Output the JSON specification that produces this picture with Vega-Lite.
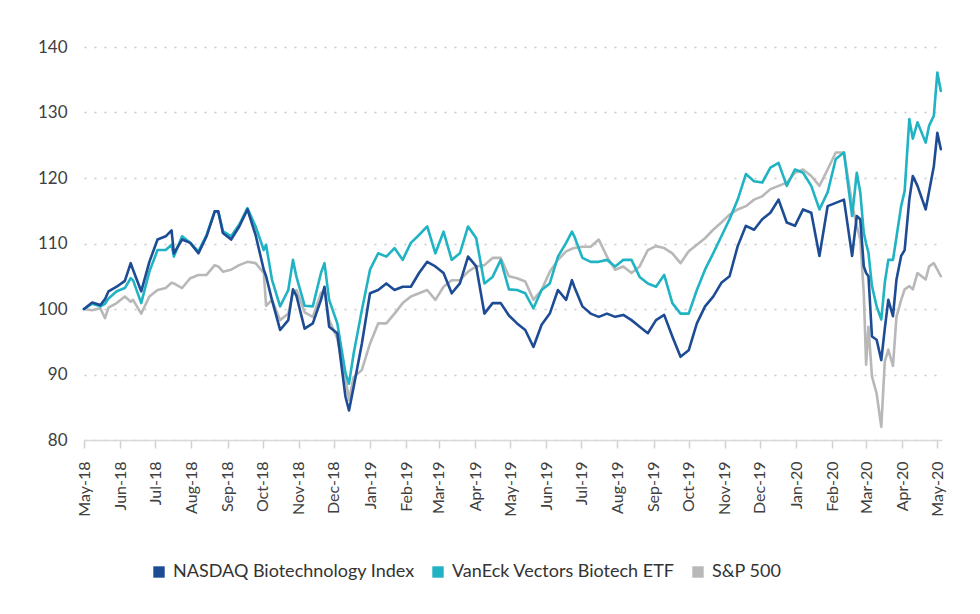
{
  "$schema": "https://vega.github.io/schema/vega-lite/v6.json",
  "width": 858,
  "height": 393,
  "autosize": {"type": "none"},
  "padding": {"left": 84, "top": 47, "right": 38, "bottom": 174},
  "background": "white",
  "config": {"view": {"stroke": null}, "font": "Lato"},
  "data": {"values": [
    {"date": "2018-05-01", "nbi": 100, "bbh": 100, "spx": 100},
    {"date": "2018-05-08", "nbi": 101.0, "bbh": 100.8, "spx": 99.8},
    {"date": "2018-05-15", "nbi": 100.6, "bbh": 100.4, "spx": 100.1},
    {"date": "2018-05-19", "nbi": 101.5, "bbh": 100.8, "spx": 98.6},
    {"date": "2018-05-22", "nbi": 102.7, "bbh": 101.6, "spx": 100.2},
    {"date": "2018-05-29", "nbi": 103.4, "bbh": 102.7, "spx": 100.9},
    {"date": "2018-06-05", "nbi": 104.3, "bbh": 103.2, "spx": 101.9},
    {"date": "2018-06-10", "nbi": 107.0, "bbh": 104.7, "spx": 101.1},
    {"date": "2018-06-12", "nbi": 106.0, "bbh": 104.4, "spx": 101.4},
    {"date": "2018-06-19", "nbi": 102.7, "bbh": 100.9, "spx": 99.3},
    {"date": "2018-06-26", "nbi": 107.2, "bbh": 105.7, "spx": 101.9},
    {"date": "2018-07-03", "nbi": 110.6, "bbh": 109.0, "spx": 102.9},
    {"date": "2018-07-10", "nbi": 111.1, "bbh": 109.0, "spx": 103.2},
    {"date": "2018-07-15", "nbi": 112.0, "bbh": 109.8, "spx": 104.0},
    {"date": "2018-07-17", "nbi": 108.5, "bbh": 108.0, "spx": 103.9},
    {"date": "2018-07-24", "nbi": 110.6, "bbh": 111.1, "spx": 103.2},
    {"date": "2018-07-31", "nbi": 110.1, "bbh": 110.1, "spx": 104.7},
    {"date": "2018-08-07", "nbi": 108.5, "bbh": 108.8, "spx": 105.2},
    {"date": "2018-08-14", "nbi": 111.1, "bbh": 111.3, "spx": 105.2},
    {"date": "2018-08-21", "nbi": 114.9, "bbh": 114.9, "spx": 106.7},
    {"date": "2018-08-24", "nbi": 114.9, "bbh": 114.9, "spx": 106.5},
    {"date": "2018-08-28", "nbi": 111.6, "bbh": 111.9, "spx": 105.7},
    {"date": "2018-09-04", "nbi": 110.6, "bbh": 111.1, "spx": 106.0},
    {"date": "2018-09-11", "nbi": 112.6, "bbh": 112.9, "spx": 106.7},
    {"date": "2018-09-18", "nbi": 115.2, "bbh": 115.4, "spx": 107.2},
    {"date": "2018-09-25", "nbi": 111.3, "bbh": 112.6, "spx": 107.0},
    {"date": "2018-10-02", "nbi": 106.0, "bbh": 109.0, "spx": 105.5},
    {"date": "2018-10-04", "nbi": 105.0, "bbh": 109.8, "spx": 100.5},
    {"date": "2018-10-09", "nbi": 101.4, "bbh": 104.5, "spx": 101.4},
    {"date": "2018-10-16", "nbi": 96.8, "bbh": 100.4, "spx": 98.3},
    {"date": "2018-10-23", "nbi": 98.3, "bbh": 102.9, "spx": 99.3},
    {"date": "2018-10-27", "nbi": 103.0, "bbh": 107.5, "spx": 102.5},
    {"date": "2018-10-30", "nbi": 102.0, "bbh": 104.9, "spx": 102.9},
    {"date": "2018-11-06", "nbi": 97.0, "bbh": 100.5, "spx": 99.5},
    {"date": "2018-11-13", "nbi": 97.8, "bbh": 100.4, "spx": 98.8},
    {"date": "2018-11-20", "nbi": 101.4, "bbh": 105.5, "spx": 102.4},
    {"date": "2018-11-23", "nbi": 103.4, "bbh": 107.0, "spx": 102.9},
    {"date": "2018-11-27", "nbi": 97.3, "bbh": 101.4, "spx": 98.3},
    {"date": "2018-12-04", "nbi": 96.3, "bbh": 97.8, "spx": 95.5},
    {"date": "2018-12-11", "nbi": 86.6, "bbh": 90.2, "spx": 89.6},
    {"date": "2018-12-14", "nbi": 84.5, "bbh": 88.6, "spx": 86.1},
    {"date": "2018-12-18", "nbi": 88.1, "bbh": 93.2, "spx": 89.6},
    {"date": "2018-12-25", "nbi": 94.7, "bbh": 99.8, "spx": 90.7},
    {"date": "2019-01-01", "nbi": 102.4, "bbh": 106.0, "spx": 94.7},
    {"date": "2019-01-08", "nbi": 102.9, "bbh": 108.5, "spx": 97.8},
    {"date": "2019-01-15", "nbi": 103.9, "bbh": 108.0, "spx": 97.8},
    {"date": "2019-01-22", "nbi": 102.9, "bbh": 109.3, "spx": 99.3},
    {"date": "2019-01-29", "nbi": 103.4, "bbh": 107.5, "spx": 100.9},
    {"date": "2019-02-05", "nbi": 103.4, "bbh": 110.1, "spx": 101.9},
    {"date": "2019-02-12", "nbi": 105.5, "bbh": 111.3, "spx": 102.4},
    {"date": "2019-02-19", "nbi": 107.2, "bbh": 112.6, "spx": 102.9},
    {"date": "2019-02-26", "nbi": 106.5, "bbh": 108.5, "spx": 101.4},
    {"date": "2019-03-05", "nbi": 105.5, "bbh": 111.8, "spx": 103.4},
    {"date": "2019-03-12", "nbi": 102.4, "bbh": 107.5, "spx": 104.4},
    {"date": "2019-03-19", "nbi": 103.9, "bbh": 108.5, "spx": 104.4},
    {"date": "2019-03-26", "nbi": 108.0, "bbh": 112.6, "spx": 105.7},
    {"date": "2019-04-02", "nbi": 106.5, "bbh": 110.8, "spx": 106.5},
    {"date": "2019-04-09", "nbi": 99.3, "bbh": 103.9, "spx": 106.7},
    {"date": "2019-04-16", "nbi": 100.9, "bbh": 104.9, "spx": 107.8},
    {"date": "2019-04-23", "nbi": 100.9, "bbh": 107.5, "spx": 107.8},
    {"date": "2019-04-30", "nbi": 99.0, "bbh": 103.0, "spx": 105.0},
    {"date": "2019-05-07", "nbi": 97.8, "bbh": 102.9, "spx": 104.7},
    {"date": "2019-05-14", "nbi": 96.8, "bbh": 102.4, "spx": 104.2},
    {"date": "2019-05-21", "nbi": 94.2, "bbh": 100.1, "spx": 101.4},
    {"date": "2019-05-28", "nbi": 97.6, "bbh": 102.9, "spx": 102.9},
    {"date": "2019-06-04", "nbi": 99.3, "bbh": 103.9, "spx": 105.7},
    {"date": "2019-06-11", "nbi": 102.9, "bbh": 108.0, "spx": 107.5},
    {"date": "2019-06-18", "nbi": 101.4, "bbh": 110.1, "spx": 108.8},
    {"date": "2019-06-23", "nbi": 104.4, "bbh": 111.8, "spx": 109.2},
    {"date": "2019-06-25", "nbi": 103.4, "bbh": 111.1, "spx": 109.3},
    {"date": "2019-07-02", "nbi": 100.4, "bbh": 107.8, "spx": 109.5},
    {"date": "2019-07-09", "nbi": 99.3, "bbh": 107.2, "spx": 109.5},
    {"date": "2019-07-16", "nbi": 98.8, "bbh": 107.2, "spx": 110.6},
    {"date": "2019-07-23", "nbi": 99.3, "bbh": 107.5, "spx": 108.0},
    {"date": "2019-07-30", "nbi": 98.8, "bbh": 106.5, "spx": 106.0},
    {"date": "2019-08-06", "nbi": 99.1, "bbh": 107.5, "spx": 106.5},
    {"date": "2019-08-13", "nbi": 98.3, "bbh": 107.5, "spx": 105.5},
    {"date": "2019-08-20", "nbi": 97.3, "bbh": 104.9, "spx": 106.5},
    {"date": "2019-08-27", "nbi": 96.3, "bbh": 103.9, "spx": 109.0},
    {"date": "2019-09-03", "nbi": 98.3, "bbh": 103.4, "spx": 109.6},
    {"date": "2019-09-10", "nbi": 99.1, "bbh": 105.2, "spx": 109.3},
    {"date": "2019-09-17", "nbi": 95.8, "bbh": 100.9, "spx": 108.5},
    {"date": "2019-09-24", "nbi": 92.7, "bbh": 99.3, "spx": 107.0},
    {"date": "2019-10-01", "nbi": 93.7, "bbh": 99.3, "spx": 108.8},
    {"date": "2019-10-08", "nbi": 97.8, "bbh": 102.9, "spx": 109.8},
    {"date": "2019-10-15", "nbi": 100.4, "bbh": 106.0, "spx": 110.8},
    {"date": "2019-10-22", "nbi": 101.9, "bbh": 108.5, "spx": 112.1},
    {"date": "2019-10-29", "nbi": 104.0, "bbh": 111.1, "spx": 113.2},
    {"date": "2019-11-05", "nbi": 105.0, "bbh": 113.7, "spx": 114.4},
    {"date": "2019-11-12", "nbi": 109.6, "bbh": 116.7, "spx": 115.2},
    {"date": "2019-11-19", "nbi": 112.7, "bbh": 120.6, "spx": 115.7},
    {"date": "2019-11-26", "nbi": 112.1, "bbh": 119.5, "spx": 116.7},
    {"date": "2019-12-03", "nbi": 113.7, "bbh": 119.3, "spx": 117.2},
    {"date": "2019-12-10", "nbi": 114.7, "bbh": 121.6, "spx": 118.3},
    {"date": "2019-12-17", "nbi": 116.7, "bbh": 122.3, "spx": 118.8},
    {"date": "2019-12-24", "nbi": 113.2, "bbh": 118.8, "spx": 119.3},
    {"date": "2019-12-31", "nbi": 112.7, "bbh": 121.3, "spx": 120.8},
    {"date": "2020-01-07", "nbi": 115.2, "bbh": 120.8, "spx": 121.3},
    {"date": "2020-01-14", "nbi": 114.7, "bbh": 118.8, "spx": 120.3},
    {"date": "2020-01-21", "nbi": 108.1, "bbh": 115.2, "spx": 118.8},
    {"date": "2020-01-28", "nbi": 115.7, "bbh": 117.8, "spx": 121.3},
    {"date": "2020-02-04", "nbi": 116.2, "bbh": 122.9, "spx": 123.9},
    {"date": "2020-02-11", "nbi": 116.7, "bbh": 123.9, "spx": 123.9},
    {"date": "2020-02-18", "nbi": 108.1, "bbh": 114.2, "spx": 116.0},
    {"date": "2020-02-22", "nbi": 114.2, "bbh": 120.8, "spx": 112.7},
    {"date": "2020-02-25", "nbi": 113.7, "bbh": 117.8, "spx": 110.6},
    {"date": "2020-02-28", "nbi": 106.5, "bbh": 111.6, "spx": 102.4},
    {"date": "2020-03-01", "nbi": 105.5, "bbh": 110.0, "spx": 91.5},
    {"date": "2020-03-03", "nbi": 105.0, "bbh": 108.6, "spx": 97.3},
    {"date": "2020-03-06", "nbi": 95.8, "bbh": 103.5, "spx": 89.7},
    {"date": "2020-03-10", "nbi": 95.3, "bbh": 100.4, "spx": 87.1},
    {"date": "2020-03-14", "nbi": 92.2, "bbh": 98.4, "spx": 82.0},
    {"date": "2020-03-17", "nbi": 97.0, "bbh": 104.0, "spx": 92.0},
    {"date": "2020-03-20", "nbi": 101.4, "bbh": 107.5, "spx": 93.8},
    {"date": "2020-03-24", "nbi": 98.9, "bbh": 107.5, "spx": 91.3},
    {"date": "2020-03-27", "nbi": 104.5, "bbh": 111.0, "spx": 98.8},
    {"date": "2020-03-31", "nbi": 108.1, "bbh": 115.7, "spx": 101.4},
    {"date": "2020-04-03", "nbi": 109.0, "bbh": 118.0, "spx": 103.0},
    {"date": "2020-04-07", "nbi": 116.7, "bbh": 129.0, "spx": 103.5},
    {"date": "2020-04-10", "nbi": 120.3, "bbh": 126.0, "spx": 103.0},
    {"date": "2020-04-14", "nbi": 118.8, "bbh": 128.5, "spx": 105.5},
    {"date": "2020-04-21", "nbi": 115.2, "bbh": 125.4, "spx": 104.5},
    {"date": "2020-04-24", "nbi": 118.0, "bbh": 128.0, "spx": 106.5},
    {"date": "2020-04-28", "nbi": 121.8, "bbh": 129.5, "spx": 107.0},
    {"date": "2020-05-01", "nbi": 126.9, "bbh": 136.1, "spx": 106.0},
    {"date": "2020-05-04", "nbi": 124.4, "bbh": 133.3, "spx": 105.0}
  ]},
  "transform": [{"fold": ["spx", "bbh", "nbi"], "as": ["series", "value"]}],
  "mark": {"type": "line", "strokeWidth": 2.6, "strokeJoin": "round", "strokeCap": "round"},
  "encoding": {
    "x": {
      "field": "date",
      "type": "temporal",
      "scale": {"type": "utc", "domain": [{"year": 2018, "month": 5, "date": 1, "utc": true}, {"year": 2020, "month": 5, "date": 5, "utc": true}]},
      "axis": {
        "title": null,
        "labelExpr": "utcFormat(datum.value, '%b-%y')",
        "tickCount": {"interval": "month", "step": 1},
        "labelAngle": 270,
        "labelAlign": "right",
        "labelBaseline": "middle",
        "labelFontSize": 16,
        "labelColor": "#404040",
        "labelPadding": 13,
        "labelOverlap": false,
        "labelFlush": false,
        "tickSize": 8,
        "tickColor": "#d0d0d0",
        "tickWidth": 1.5,
        "domainColor": "#d9d9d9",
        "domainWidth": 1.5,
        "grid": false
      }
    },
    "y": {
      "field": "value",
      "type": "quantitative",
      "scale": {"domain": [80, 140], "nice": false, "zero": false},
      "axis": {
        "title": null,
        "values": [80, 90, 100, 110, 120, 130, 140],
        "domain": false,
        "ticks": false,
        "labelFontSize": 17,
        "labelColor": "#404040",
        "labelPadding": 17,
        "grid": true,
        "gridColor": "#c8c8c8",
        "gridDash": [2, 8],
        "gridWidth": 1.5
      }
    },
    "color": {
      "field": "series",
      "type": "nominal",
      "scale": {"domain": ["nbi", "bbh", "spx"], "range": ["#1d4b94", "#20b3c3", "#b8b8b8"]},
      "legend": {
        "title": null,
        "orient": "none",
        "legendX": 66,
        "legendY": 516,
        "direction": "horizontal",
        "symbolType": "square",
        "symbolSize": 130,
        "symbolStrokeWidth": 0,
        "labelFontSize": 18,
        "labelColor": "#333333",
        "labelLimit": 400,
        "columnPadding": 14,
        "labelOffset": 5,
        "labelExpr": "datum.value == 'nbi' ? 'NASDAQ Biotechnology Index' : datum.value == 'bbh' ? 'VanEck Vectors Biotech ETF' : 'S&P 500'",
        "encode": {"symbols": {"update": {"fill": {"scale": "color", "field": "value"}, "opacity": {"value": 1}}}}
      }
    }
  }
}
